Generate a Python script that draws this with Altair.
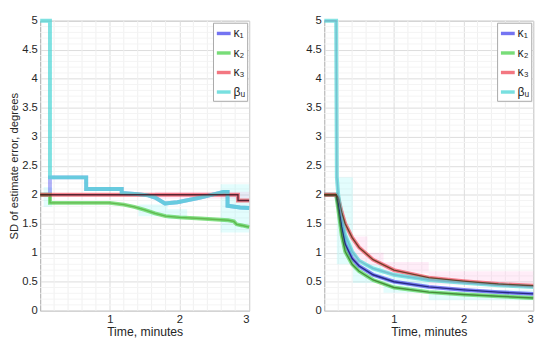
import altair as alt
import pandas as pd

SERIES = ["κ₁", "κ₂", "κ₃", "βᵤ"]
COLORS = ["#4646ee", "#4cd24c", "#f04a58", "#4cd6d6"]
L_CORES = ["#6a8ad8", "#4e9e2a", "#3c1422", "#5ac8d0"]
R_CORES = ["#14146a", "#2f6a18", "#5a3418", "#6a9ec0"]
L_CORE_OP = [0.0, 0.6, 0.85, 0.0]
R_CORE_OP = [0.8, 0.7, 0.85, 0.5]
L_LINE_OP = [0.42, 0.68, 0.68, 0.72]
R_LINE_OP = [0.68, 0.68, 0.68, 0.68]

# ---------- left panel ----------
L_k1_x = [0.0, 0.14, 0.14, 0.66, 0.66, 1.17, 1.17, 1.4, 1.55, 1.65, 1.79, 1.97, 2.3, 2.63, 2.69, 2.69, 2.87, 3.0]
L_k1_y = [2.0, 2.0, 2.3, 2.3, 2.1, 2.1, 2.03, 2.01, 1.99, 1.95, 1.85, 1.87, 1.95, 2.05, 2.05, 1.81, 1.78, 1.77]
L_k2_x = [0.0, 0.14, 0.14, 0.5, 1.0, 1.2, 1.35, 1.5, 1.65, 1.8, 2.0, 2.3, 2.7, 2.78, 2.82, 2.9, 3.0]
L_k2_y = [2.0, 2.0, 1.86, 1.86, 1.86, 1.83, 1.79, 1.74, 1.68, 1.63, 1.61, 1.59, 1.56, 1.54, 1.49, 1.47, 1.44]
L_k3_x = [0.0, 2.84, 2.84, 3.0]
L_k3_y = [2.0, 2.0, 1.9, 1.9]
L_bu_x = [0.0, 0.14, 0.14, 0.66, 0.66, 1.17, 1.17, 1.4, 1.55, 1.65, 1.79, 1.97, 2.3, 2.63, 2.69, 2.69, 2.87, 3.0]
L_bu_y = [5.0, 5.0, 2.3, 2.3, 2.1, 2.1, 2.03, 2.01, 1.99, 1.95, 1.85, 1.87, 1.95, 2.05, 2.05, 1.81, 1.78, 1.77]

L_cyan_band = {"x0": [0.05, 1.41, 1.83, 2.59], "x1": [0.17, 1.83, 2.11, 3.0],
               "y0": [1.79, 1.63, 1.58, 1.35], "y1": [2.13, 1.83, 1.75, 2.18]}
L_pink_band = {"x0": [1.65, 2.17], "x1": [2.17, 3.0],
               "y0": [1.93, 1.93], "y1": [2.05, 2.05]}

# ---------- right panel ----------
R_x = [0.0, 0.17, 0.2, 0.25, 0.3, 0.4, 0.5, 0.7, 1.0, 1.5, 2.0, 2.5, 3.0]
R_k1_y = [2.0, 2.0, 1.85, 1.45, 1.15, 0.9, 0.77, 0.62, 0.5, 0.41, 0.36, 0.32, 0.29]
R_k2_y = [2.0, 2.0, 1.75, 1.3, 1.02, 0.8, 0.68, 0.53, 0.4, 0.32, 0.28, 0.25, 0.22]
R_k3_y = [2.0, 2.0, 1.95, 1.7, 1.5, 1.26, 1.09, 0.88, 0.7, 0.57, 0.51, 0.46, 0.43]
R_bu_x = [0.0, 0.17, 0.18, 0.2, 0.25, 0.3, 0.4, 0.5, 0.7, 1.0, 1.5, 2.0, 2.5, 3.0]
R_bu_y = [5.0, 5.0, 2.3, 2.0, 1.6, 1.3, 1.02, 0.86, 0.73, 0.62, 0.53, 0.48, 0.44, 0.41]

R_cyan_band = {"x0": [0.18, 0.41, 0.85, 1.5], "x1": [0.41, 0.85, 1.5, 3.0],
               "y0": [0.8, 0.48, 0.31, 0.18], "y1": [2.3, 0.8, 0.6, 0.36]}
R_pink_band = {"x0": [0.41, 0.62, 0.85, 1.5], "x1": [0.62, 0.85, 1.5, 3.0],
               "y0": [0.84, 0.78, 0.64, 0.45], "y1": [1.28, 1.0, 0.84, 0.68]}

X_TICKS = [1, 2, 3]
Y_TICKS = [0, 0.5, 1, 1.5, 2, 2.5, 3, 3.5, 4, 4.5, 5]
X_MINOR = [round(0.2 * k, 2) for k in range(1, 15) if k % 5 != 0]
Y_MINOR = [round(0.1 * k, 2) for k in range(1, 50) if k % 5 != 0]

FONT = "Liberation Sans"


def lines_df(parts, core_op, line_op):
    frames = []
    for (name, xs, ys), op, lop in zip(parts, core_op, line_op):
        frames.append(pd.DataFrame({"t": xs, "v": ys, "s": name, "op": op, "lop": lop,
                                    "i": list(range(len(xs)))}))
    return pd.concat(frames, ignore_index=True)


def panel(parts, cyan_band, pink_band, ytitle, cores, core_op, line_op):
    df = lines_df(parts, core_op, line_op)
    xs = alt.Scale(domain=[0, 3], nice=False, zero=False)
    ys = alt.Scale(domain=[0, 5], nice=False)
    xaxis = alt.Axis(values=X_TICKS, grid=True, gridColor="#dcdcdc", ticks=False, domain=False,
                     format="~g", labelFont=FONT, labelFontSize=11.5, labelColor="#262626",
                     labelPadding=3, titleFont=FONT, titleFontSize=12.5, titleColor="#262626",
                     titleFontWeight="normal", titlePadding=1)
    yaxis = alt.Axis(values=Y_TICKS, grid=True, gridColor="#dcdcdc", ticks=False, domain=False,
                     format="~g", labelFont=FONT, labelFontSize=11.5, labelColor="#262626",
                     labelPadding=3, labelOverlap=False, titleFont=FONT, titleFontSize=11.5,
                     titleColor="#262626", titleFontWeight="normal", titlePadding=2)
    xtitle = "Time, minutes"

    def X(f):
        return alt.X(f, scale=xs, axis=xaxis, title=xtitle)

    def Y(f):
        return alt.Y(f, scale=ys, axis=yaxis, title=ytitle if ytitle else "")

    minor_x = alt.Chart(pd.DataFrame({"g": X_MINOR})).mark_rule(color="#f0f0f0", strokeWidth=1).encode(
        x=X("g:Q"))
    minor_y = alt.Chart(pd.DataFrame({"g": Y_MINOR})).mark_rule(color="#f4f4f4", strokeWidth=1).encode(
        y=Y("g:Q"))
    cb = alt.Chart(pd.DataFrame(cyan_band)).mark_rect(color="#7ff5f5", opacity=0.22).encode(
        x=X("x0:Q"), x2="x1:Q", y=Y("y0:Q"), y2="y1:Q")
    pb = alt.Chart(pd.DataFrame(pink_band)).mark_rect(color="#ff9ad6", opacity=0.18).encode(
        x=X("x0:Q"), x2="x1:Q", y=Y("y0:Q"), y2="y1:Q")
    thick = alt.Chart(df).mark_line(strokeWidth=4).encode(
        x=X("t:Q"), y=Y("v:Q"),
        color=alt.Color("s:N", sort=SERIES, scale=alt.Scale(domain=SERIES, range=COLORS),
                        legend=alt.Legend(title=None, orient="top-right", offset=2,
                                          strokeColor="#a8a8a8", fillColor="white", padding=2,
                                          symbolType="stroke", symbolStrokeWidth=3.5, symbolSize=200,
                                          symbolOpacity=0.75, labelFont=FONT, labelFontSize=12.5,
                                          labelColor="#262626", rowPadding=4, labelOffset=1)),
        opacity=alt.Opacity("lop:Q", scale=None),
        order=alt.Order("i:Q"))
    core = alt.Chart(df).mark_line(strokeWidth=1.4).encode(
        x=X("t:Q"), y=Y("v:Q"),
        stroke=alt.Stroke("s:N", sort=SERIES, scale=alt.Scale(domain=SERIES, range=cores), legend=None),
        opacity=alt.Opacity("op:Q", scale=None),
        order=alt.Order("i:Q"))
    return alt.layer(minor_x, minor_y, cb, pb, thick, core).properties(width=214, height=297)


left = panel([(SERIES[0], L_k1_x, L_k1_y), (SERIES[1], L_k2_x, L_k2_y),
              (SERIES[2], L_k3_x, L_k3_y), (SERIES[3], L_bu_x, L_bu_y)],
             L_cyan_band, L_pink_band, "SD of estimate error, degrees", L_CORES, L_CORE_OP, L_LINE_OP)
right = panel([(SERIES[0], R_x, R_k1_y), (SERIES[1], R_x, R_k2_y),
               (SERIES[2], R_x, R_k3_y), (SERIES[3], R_bu_x, R_bu_y)],
              R_cyan_band, R_pink_band, None, R_CORES, R_CORE_OP, R_LINE_OP)

chart = alt.hconcat(left, right, spacing=48).resolve_scale(color="independent", stroke="independent") \
    .resolve_legend(color="independent").configure_view(stroke="#a8a8a8", strokeWidth=1) \
    .properties(padding={"left": 0, "top": 0, "right": 0, "bottom": 0})

chart.save("out.html", embed_options={"renderer": "svg", "actions": False})
